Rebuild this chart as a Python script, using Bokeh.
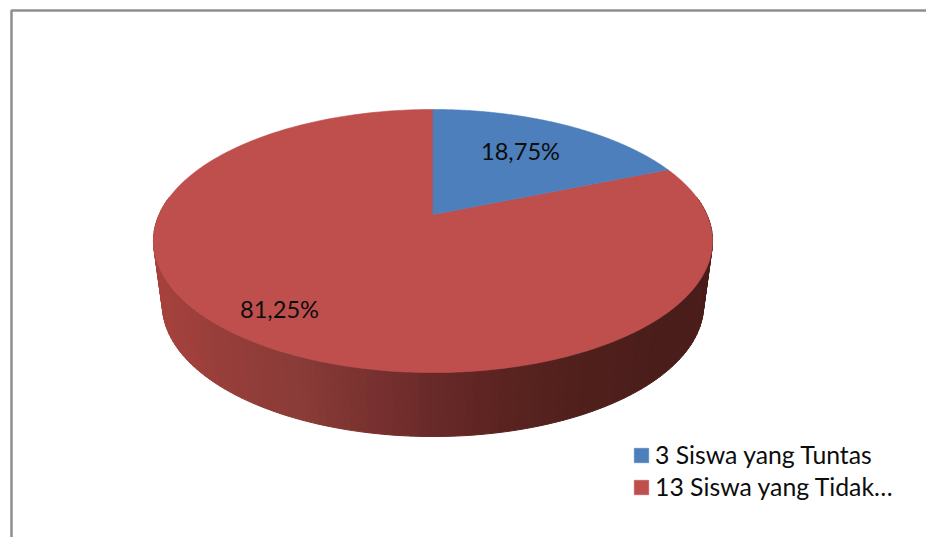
import numpy as np
from bokeh.embed import file_html
from bokeh.models import Legend, LegendItem
from bokeh.plotting import figure
from bokeh.resources import INLINE

# Share of students per group, and the counts named in the legend
percentages = [18.75, 81.25]
legend_labels = ["3 Siswa yang Tuntas", "13 Siswa yang Tidak…"]
slice_colors = ["#4C7FBC", "#BF4F4D"]

# Shading of the pie's front wall, left to right
wall_stops_x = [155, 230, 300, 370, 430, 500, 580, 650, 712]
wall_stops_rgb = [
    (168, 66, 62), (150, 62, 58), (138, 60, 56), (122, 50, 48), (106, 42, 42),
    (92, 36, 33), (80, 32, 28), (76, 30, 27), (74, 28, 26),
]

# Perspective disc: pie centre on the page, half-axes and foreshortening
APEX_X, APEX_Y = 432.5, 214.0
K = 0.2015
A, B = 273.8, 126.2
BOTTOM_SCALE = 0.968
BOTTOM_DROP = 64.0


def project(theta, scale=1.0, drop=0.0):
    """Map an angle on the disc (radians, counter-clockwise from east) to the page."""
    u, v = np.cos(theta), np.sin(theta)
    w = 1 + K * v
    return APEX_X + scale * A * u / w, APEX_Y + drop - B * v / w


p = figure(
    width=926, height=537, x_range=(0, 926), y_range=(537, 0),
    x_axis_type=None, y_axis_type=None, toolbar_location=None,
    output_backend="svg", min_border=0, outline_line_color=None,
    background_fill_color="white", border_fill_color="white",
)
p.grid.visible = False

# Frame: only the top and left edges are visible
p.line([11, 11, 926], [537, 10, 10], line_color="#8E8E8E", line_width=2.5)

# Front wall, drawn as thin shaded strips
edges = np.radians(np.linspace(172, 368, 130))
for t0, t1 in zip(edges[:-1], edges[1:]):
    x0, y0 = project(t0)
    x1, y1 = project(t1)
    x2, y2 = project(t1, BOTTOM_SCALE, BOTTOM_DROP)
    x3, y3 = project(t0, BOTTOM_SCALE, BOTTOM_DROP)
    mid = (x0 + x1 + x2 + x3) / 4
    rgb = [int(np.interp(mid, wall_stops_x, [c[i] for c in wall_stops_rgb])) for i in range(3)]
    color = "#%02x%02x%02x" % tuple(rgb)
    p.patch([x0, x1, x2, x3], [y0, y1, y2, y3], fill_color=color, line_color=color, line_width=1)

# Top face: slices run clockwise from twelve o'clock
start = 90.0
slices = []
for pct, color in zip(percentages, slice_colors):
    sweep = pct / 100 * 360
    angles = np.radians(np.linspace(start, start - sweep, 240))
    xs, ys = project(angles)
    xs = np.concatenate([[APEX_X], xs])
    ys = np.concatenate([[APEX_Y], ys])
    slices.append((xs, ys, color))
    start -= sweep

# Red goes down first so the blue wedge stays crisp on top
renderers = {}
for idx in (1, 0):
    xs, ys, color = slices[idx]
    renderers[idx] = p.patch(xs, ys, fill_color=color, line_color=color, line_width=0.6)

# Value labels, written with a decimal comma
label_texts = [f"{v:.2f}".replace(".", ",") + "%" for v in percentages]
for text, (lx, ly) in zip(label_texts, [(520, 150), (279, 308)]):
    p.text([lx], [ly], text=[text], text_align="center", text_baseline="middle",
           text_font={"value": "Lato"}, text_font_size="23.6px", text_color="#0d0d0d")

# Swatches are inset by the legend renderer, so the glyph box is oversized
legend = Legend(
    items=[LegendItem(label=t, renderers=[renderers[i]]) for i, t in enumerate(legend_labels)],
    location=(632, 36), orientation="vertical",
    glyph_width=18, glyph_height=18, label_width=230, label_height=15,
    label_standoff=5, spacing=3, padding=0, margin=0,
    border_line_color=None, background_fill_alpha=0,
    label_text_font="Lato", label_text_font_size="24.8px", label_text_color="#0d0d0d",
)
p.add_layout(legend, "center")

open("out.html", "w").write(file_html(p, INLINE))
